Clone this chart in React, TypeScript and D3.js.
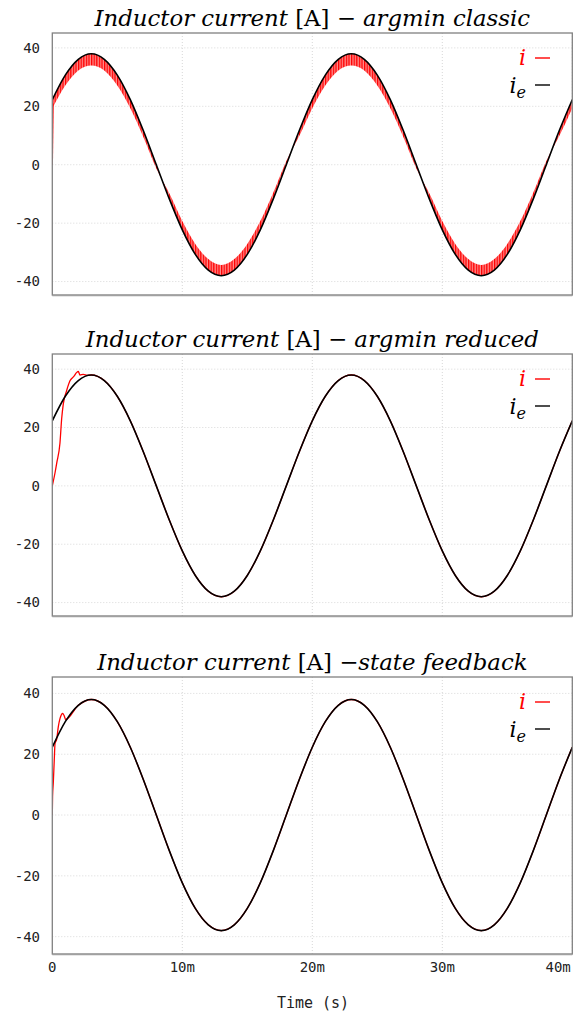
import * as d3 from "d3";
import React from "react";

// time axis samples (ms)
const timeMs = [
  0, 1, 2, 3, 4, 5, 6, 7, 8, 9, 10, 11, 12, 13, 14, 15, 16, 17, 18, 19, 20,
  21, 22, 23, 24, 25, 26, 27, 28, 29, 30, 31, 32, 33, 34, 35, 36, 37, 38, 39, 40,
];

// reference current i_e [A]
const ieRef = [
  22.3, 30.7, 36.1, 38, 36.1, 30.7, 22.3, 11.7, 0, -11.7, -22.3, -30.7, -36.1,
  -38, -36.1, -30.7, -22.3, -11.7, 0, 11.7, 22.3, 30.7, 36.1, 38, 36.1, 30.7,
  22.3, 11.7, 0, -11.7, -22.3, -30.7, -36.1, -38, -36.1, -30.7, -22.3, -11.7, 0,
  11.7, 22.3,
];

// argmin classic: inner edge of the ripple band of i
const classicInner = [
  19.3, 27.1, 32.3, 34.0, 32.3, 27.1, 19.3, 9.5, -1.3, -9.8, -19.3, -27.1, -32.3,
  -34.3, -32.3, -27.1, -19.3, -9.5, 1.3, 9.8, 19.3, 27.1, 32.3, 34.0, 32.3, 27.1,
  19.3, 9.5, -1.3, -9.8, -19.3, -27.1, -32.3, -34.3, -32.3, -27.1, -19.3, -9.5, 1.3,
  9.8, 19.3,
];
const classicStartT = [0, 0.06];
const classicStartV = [0, 21];

// argmin reduced: start-up transient of i
const reducedStartT = [0, 0.21, 0.34, 0.59, 0.72, 0.85, 1.1, 1.36, 1.67, 1.88, 2.0, 2.13, 2.38, 2.7];
const reducedStartV = [0, 4.5, 7.8, 14.7, 23, 28.2, 32.6, 36, 37.6, 38.9, 39.2, 38, 38.2, 37.9];

// state feedback: start-up transient of i
const feedbackStartT = [0, 0.02, 0.08, 0.15, 0.21, 0.34, 0.46, 0.59, 0.8, 0.9, 1.03];
const feedbackStartV = [0, 6, 10.9, 18, 23.5, 25, 29, 31.7, 33.4, 32.8, 31.4];

const yTicks = [40, 20, 0, -20, -40];
const xTicks = [0, 10, 20, 30, 40];
const xTickLabels = ["0", "10m", "20m", "30m", "40m"];

const W = 579;
const H = 1017;
const left = 52.3;
const right = 572.3;
const mono = "'DejaVu Sans Mono', monospace";
const serif = "'DejaVu Serif', serif";

type Pt = [number, number];

const refPts: Pt[] = timeMs.map((t, i) => [t, ieRef[i]]);

function joinStart(ts: number[], vs: number[], from: number): Pt[] {
  const start: Pt[] = ts.map((t, i) => [t, vs[i]]);
  return start.concat(refPts.filter((p) => p[0] >= from));
}

interface PanelProps {
  top: number;
  bottom: number;
  domain: [number, number];
  title: string;
  kind: "classic" | "reduced" | "feedback";
  showX?: boolean;
}

const x = d3.scaleLinear().domain([0, 40]).range([left, right]);

const Panel: React.FC<PanelProps> = ({ top, bottom, domain, title, kind, showX }) => {
  const y = d3.scaleLinear().domain(domain).range([bottom, top]);
  const line = d3
    .line<Pt>()
    .x((d) => x(d[0]))
    .y((d) => y(d[1]))
    .curve(d3.curveMonotoneX);

  let red: React.ReactNode = null;
  if (kind === "classic") {
    const band = d3
      .area<number>()
      .x((_, i) => x(timeMs[i]))
      .y0((_, i) => y(classicInner[i]))
      .y1((d) => y(d))
      .curve(d3.curveMonotoneX);
    const start: Pt[] = classicStartT.map((t, i) => [t, classicStartV[i]]);
    red = (
      <g>
        <path d={band(ieRef) || ""} fill="url(#ripple)" />
        <path d={d3.line<Pt>().x((d) => x(d[0])).y((d) => y(d[1]))(start) || ""} fill="none" stroke="#ff0000" strokeWidth={1.3} />
      </g>
    );
  } else {
    const pts =
      kind === "reduced"
        ? joinStart(reducedStartT, reducedStartV, 3)
        : joinStart(feedbackStartT, feedbackStartV, 2);
    red = <path d={line(pts) || ""} fill="none" stroke="#ff0000" strokeWidth={1.3} />;
  }

  const legendTop = top + 24;
  return (
    <g>
      <text x={(left + right) / 2} y={top - 7} textAnchor="middle" fontFamily={serif} fontSize={22.8} fill="#000">
        {title.split("|").map((part, i) => (
          <tspan key={i} fontStyle={i % 2 === 0 ? "italic" : "normal"}>
            {part}
          </tspan>
        ))}
      </text>
      {/* grid */}
      {yTicks.map((v) => (
        <line key={"gy" + v} x1={left} x2={right} y1={y(v)} y2={y(v)} stroke="#d8d8d8" strokeWidth={1} strokeDasharray="1,2" />
      ))}
      {xTicks.slice(1).map((v) => (
        <line key={"gx" + v} x1={x(v)} x2={x(v)} y1={top} y2={bottom} stroke="#d8d8d8" strokeWidth={1} strokeDasharray="1,2" />
      ))}
      <g clipPath={`url(#clip-${kind})`}>
        {red}
        <path d={line(refPts) || ""} fill="none" stroke="#000" strokeWidth={1.6} />
      </g>
      <clipPath id={`clip-${kind}`}>
        <rect x={left} y={top} width={right - left} height={bottom - top} />
      </clipPath>
      {/* frame */}
      <rect x={left} y={top} width={right - left} height={bottom - top} fill="none" stroke="#808080" strokeWidth={1.3} />
      <line x1={left} x2={right} y1={bottom + 0.5} y2={bottom + 0.5} stroke="#a0a0a0" strokeWidth={1.5} />
      {/* y ticks */}
      {yTicks.map((v) => (
        <text key={"ty" + v} x={40} y={y(v)} dy="0.35em" textAnchor="end" fontFamily={mono} fontSize={14} fill="#222">
          {v}
        </text>
      ))}
      {/* legend */}
      <text x={526} y={legendTop} dy="0.35em" textAnchor="end" fontFamily={serif} fontStyle="italic" fontSize={22} fill="#ff0000">
        i
      </text>
      <line x1={535} x2={550} y1={legendTop + 1} y2={legendTop + 1} stroke="#ff0000" strokeWidth={1.4} />
      <text x={526} y={legendTop + 28} dy="0.35em" textAnchor="end" fontFamily={serif} fontStyle="italic" fontSize={22} fill="#000">
        i
        <tspan fontSize={16} dy={5}>e</tspan>
      </text>
      <line x1={535} x2={550} y1={legendTop + 28} y2={legendTop + 28} stroke="#000" strokeWidth={1.4} />
      {showX &&
        xTicks.map((v, i) => (
          <text
            key={"tx" + v}
            x={i === xTicks.length - 1 ? right - 1.5 : x(v)}
            y={967}
            dy="0.35em"
            textAnchor={i === xTicks.length - 1 ? "end" : "middle"}
            fontFamily={mono}
            fontSize={14}
            fill="#222"
          >
            {xTickLabels[i]}
          </text>
        ))}
    </g>
  );
};

export default function App() {
  return (
    <svg width={W} height={H} style={{ position: "absolute", left: 0, top: 0, background: "#fff" }}>
      <defs>
        <pattern id="ripple" width={2.6} height={10} patternUnits="userSpaceOnUse">
          <rect width={2.6} height={10} fill="#ff8c8c" />
          <rect x={0} width={1.3} height={10} fill="#ff0000" />
        </pattern>
      </defs>
      <rect width={W} height={H} fill="#fff" />
      <Panel top={33} bottom={295} domain={[-44.6, 45.1]} kind="classic" title="Inductor current |[A] − |argmin classic" />
      <Panel top={354} bottom={616} domain={[-44.6, 45.2]} kind="reduced" title="Inductor current |[A] − |argmin reduced" />
      <Panel top={677} bottom={954} domain={[-45.7, 45.4]} kind="feedback" title="Inductor current |[A] −|state feedback" showX />
      <text x={313} y={1003} dy="0.35em" textAnchor="middle" fontFamily={mono} fontSize={15} fill="#222">
        Time (s)
      </text>
    </svg>
  );
}
